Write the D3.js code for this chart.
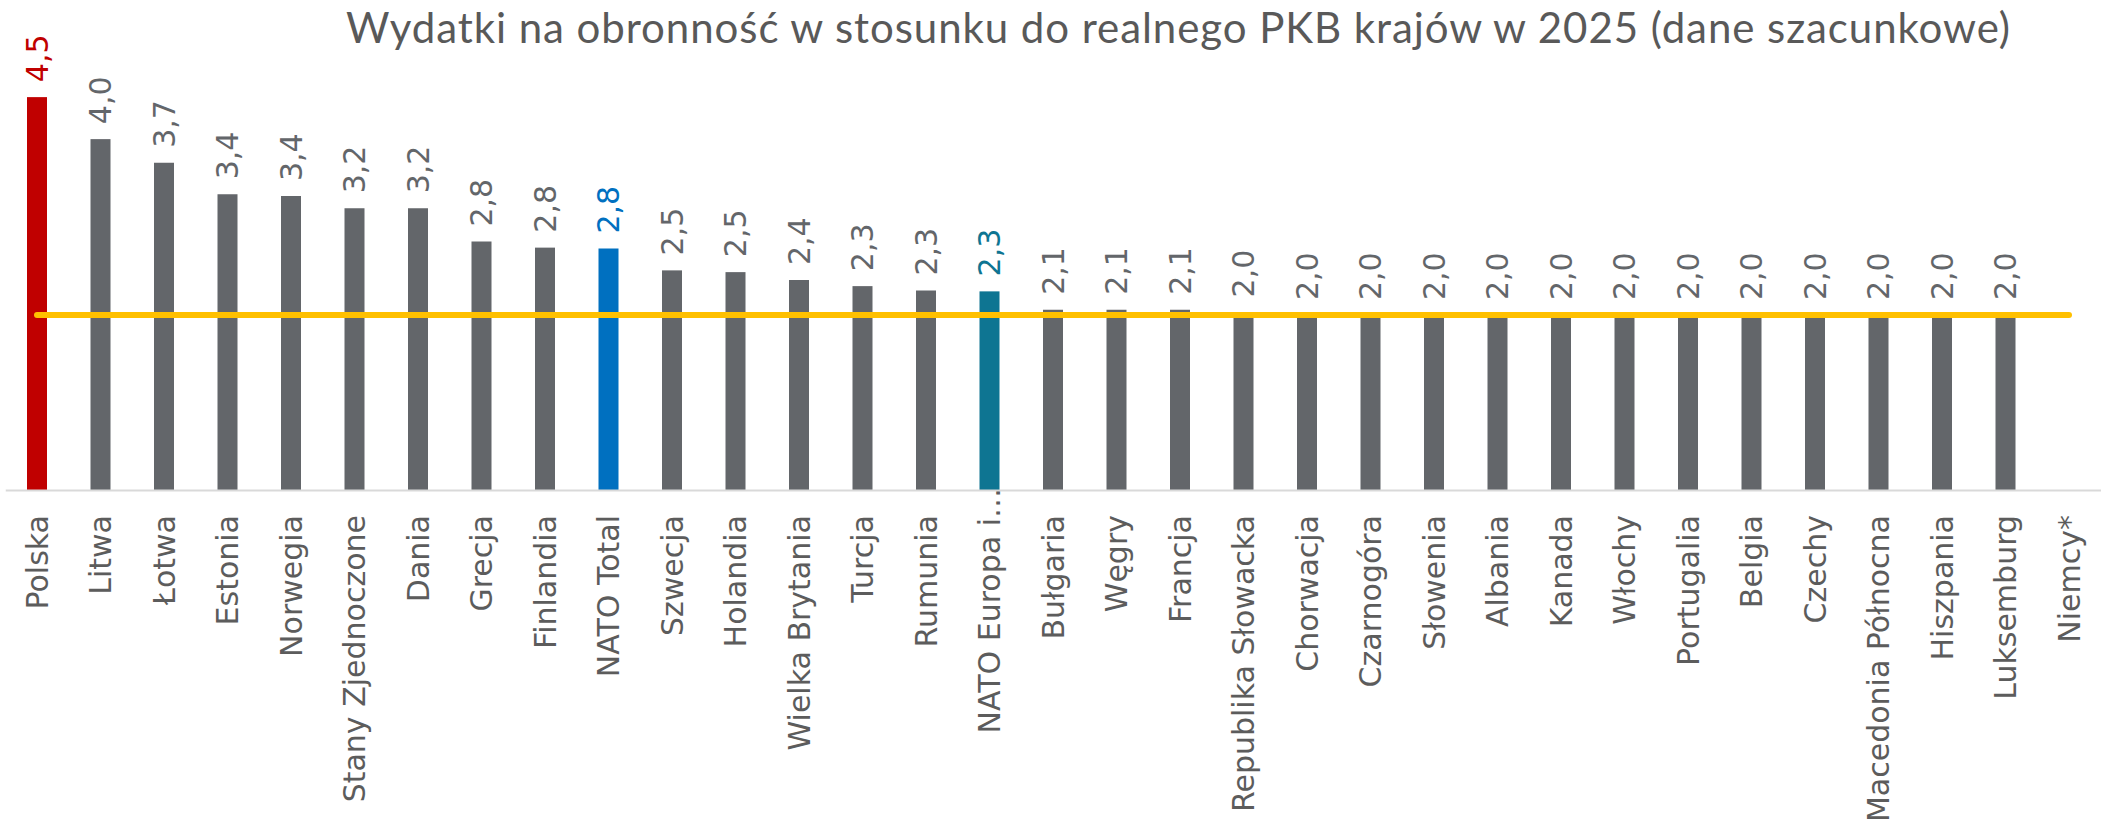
<!DOCTYPE html>
<html><head><meta charset="utf-8">
<script src="https://cdn.jsdelivr.net/npm/d3@7"></script>
<style>html,body{margin:0;padding:0;background:#fff;} svg{display:block;}</style>
</head><body>
<svg id="chart" width="2101" height="834"></svg>
<script>
const title = "Wydatki na obronność w stosunku do realnego PKB krajów w 2025 (dane szacunkowe)";
const categories = ["Polska","Litwa","Łotwa","Estonia","Norwegia","Stany Zjednoczone","Dania","Grecja","Finlandia","NATO Total","Szwecja","Holandia","Wielka Brytania","Turcja","Rumunia","NATO Europa i…","Bułgaria","Węgry","Francja","Republika Słowacka","Chorwacja","Czarnogóra","Słowenia","Albania","Kanada","Włochy","Portugalia","Belgia","Czechy","Macedonia Północna","Hiszpania","Luksemburg","Niemcy*"];
const values = [4.49,4.01,3.74,3.38,3.36,3.22,3.22,2.84,2.77,2.76,2.51,2.49,2.40,2.33,2.28,2.27,2.06,2.06,2.06,2.03,2.00,2.00,2.00,2.00,2.00,2.00,2.00,2.00,2.00,2.00,2.00,2.00,null];
const targetValue = 2.0;
const yDomain = [0, 5];

// styles
const highlight = {"Polska":"#C00000","NATO Total":"#0070C0","NATO Europa i…":"#0E7592"};
const barGrey = "#63666A";

const svg = d3.select("#chart");
const x = d3.scaleBand().domain(categories).range([5.25, 2100.75]).paddingInner(0.685).paddingOuter(0.3425);
const y = d3.scaleLinear().domain(yDomain).range([490, 52.5]);
const fmt = d3.formatLocale({decimal:",",thousands:" ",grouping:[3],currency:["",""]}).format(".1f");
const colorOf = c => highlight[c] || barGrey;
const data = categories.map((c,i)=>({c, v: values[i]}));
const withVal = data.filter(d=>d.v!=null);
const bw = x.bandwidth();

// title
svg.append("text").attr("x",346).attr("y",43)
  .attr("font-family","Lato").attr("font-size",42).attr("fill","#595959")
  .attr("textLength",1664).attr("lengthAdjust","spacing")
  .text(title);

// bars
svg.append("g").selectAll("rect").data(withVal).join("rect")
  .attr("x", d=>x(d.c)).attr("width", bw)
  .attr("y", d=>y(d.v)).attr("height", d=>y(0)-y(d.v))
  .attr("fill", d=>colorOf(d.c));

// axis
const axis = svg.append("g").attr("transform",`translate(0,${y(0)})`)
  .call(d3.axisBottom(x).tickSize(0).tickSizeOuter(0))
  .attr("font-family","DejaVu Sans").attr("font-size",30);
axis.select(".domain").attr("stroke","#D9D9D9").attr("stroke-width",2);
axis.selectAll(".tick text")
  .attr("fill","#5C5C5C")
  .attr("text-anchor","end")
  .attr("transform","rotate(-90)")
  .attr("x", d => d.endsWith("…") ? 2 : -25)
  .attr("y",0).attr("dy","0.35em");

// target line
svg.append("line")
  .attr("x1", x(categories[0]) + bw/2).attr("x2", x(categories[categories.length-1]) + bw/2)
  .attr("y1", y(targetValue)).attr("y2", y(targetValue))
  .attr("stroke","#FFC000").attr("stroke-width",6).attr("stroke-linecap","round");

// data labels
svg.append("g").selectAll("text").data(withVal).join("text")
  .attr("transform", d=>`translate(${x(d.c)+bw/2},${y(d.v)-15}) rotate(-90)`)
  .attr("text-anchor","start").attr("dy","0.35em")
  .attr("font-family","DejaVu Sans").attr("font-size",30)
  .attr("fill", d=>highlight[d.c] || "#63666A")
  .text(d=>fmt(d.v));
</script>
</body></html>
